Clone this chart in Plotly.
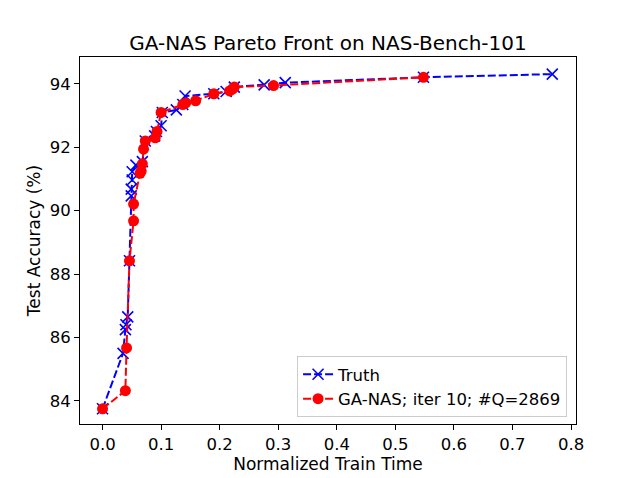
import plotly.graph_objects as go

# Pareto front
truth_time = [0.0, 0.035, 0.039, 0.040, 0.043, 0.046, 0.049, 0.049, 0.0506, 0.0506,
              0.057, 0.068, 0.073, 0.089, 0.092, 0.100, 0.102, 0.126, 0.137, 0.141,
              0.190, 0.211, 0.225, 0.276, 0.312, 0.548, 0.768]
truth_acc = [83.75, 85.50, 86.25, 86.40, 86.65, 88.42, 90.47, 90.68, 90.97, 91.23,
             91.44, 91.55, 92.20, 92.36, 92.50, 92.68, 93.10, 93.18, 93.35, 93.62,
             93.69, 93.76, 93.90, 93.97, 94.04, 94.21, 94.31]

ganas_time = [0.0, 0.039, 0.041, 0.046, 0.053, 0.053, 0.064, 0.066, 0.068, 0.070,
              0.073, 0.090, 0.093, 0.100, 0.137, 0.142, 0.159, 0.190, 0.217, 0.222,
              0.225, 0.292, 0.548]
ganas_acc = [83.75, 84.32, 85.67, 88.42, 89.68, 90.21, 91.18, 91.25, 91.48, 91.94,
             92.20, 92.30, 92.50, 93.10, 93.35, 93.40, 93.47, 93.69, 93.78, 93.84,
             93.90, 93.95, 94.21]

x_ticks = [0.0, 0.1, 0.2, 0.3, 0.4, 0.5, 0.6, 0.7, 0.8]
y_ticks = [84, 86, 88, 90, 92, 94]

fig = go.Figure()

fig.add_trace(go.Scatter(
    x=truth_time, y=truth_acc,
    mode="lines+markers",
    name="Truth",
    line=dict(color="#0000ff", width=2, dash="8px,3px"),
    marker=dict(symbol="x-thin", size=11, color="#0000ff",
                line=dict(width=1.6, color="#0000ff")),
))

fig.add_trace(go.Scatter(
    x=ganas_time, y=ganas_acc,
    mode="lines+markers",
    name="GA-NAS; iter 10; #Q=2869",
    line=dict(color="#ff0000", width=2, dash="8px,3px"),
    marker=dict(symbol="circle", size=11, color="#ff0000"),
))

axis_style = dict(
    showgrid=False, zeroline=False,
    showline=True, mirror=True, linecolor="black", linewidth=1,
    ticks="outside", ticklen=5, tickwidth=1, tickcolor="black",
    tickfont=dict(size=16.5, color="black"),
)

# page body adds an 8px offset, so margins are shifted by that amount
fig.update_layout(
    width=640, height=478,
    margin=dict(l=72, r=72, t=49, b=62),
    paper_bgcolor="white", plot_bgcolor="white",
    font=dict(family="DejaVu Sans", color="black"),
    title=dict(text="GA-NAS Pareto Front on NAS-Bench-101",
               x=0.5, xanchor="center",
               y=1 - 35 / 478, yanchor="middle",
               font=dict(size=20, color="black")),
    xaxis=dict(axis_style, range=[-0.0385, 0.8085], tickvals=x_ticks,
               tickformat=".1f",
               title=dict(text="Normalized Train Time", font=dict(size=17), standoff=4)),
    yaxis=dict(axis_style, range=[83.27, 94.85], tickvals=y_ticks,
               title=dict(text="Test Accuracy (%)", font=dict(size=17), standoff=4)),
    legend=dict(x=0.982, y=0.019, xanchor="right", yanchor="bottom",
                bgcolor="rgba(255,255,255,0.8)", bordercolor="#cccccc", borderwidth=1,
                font=dict(size=16.5, color="black")),
    showlegend=True,
)

fig.write_html("out.html")
